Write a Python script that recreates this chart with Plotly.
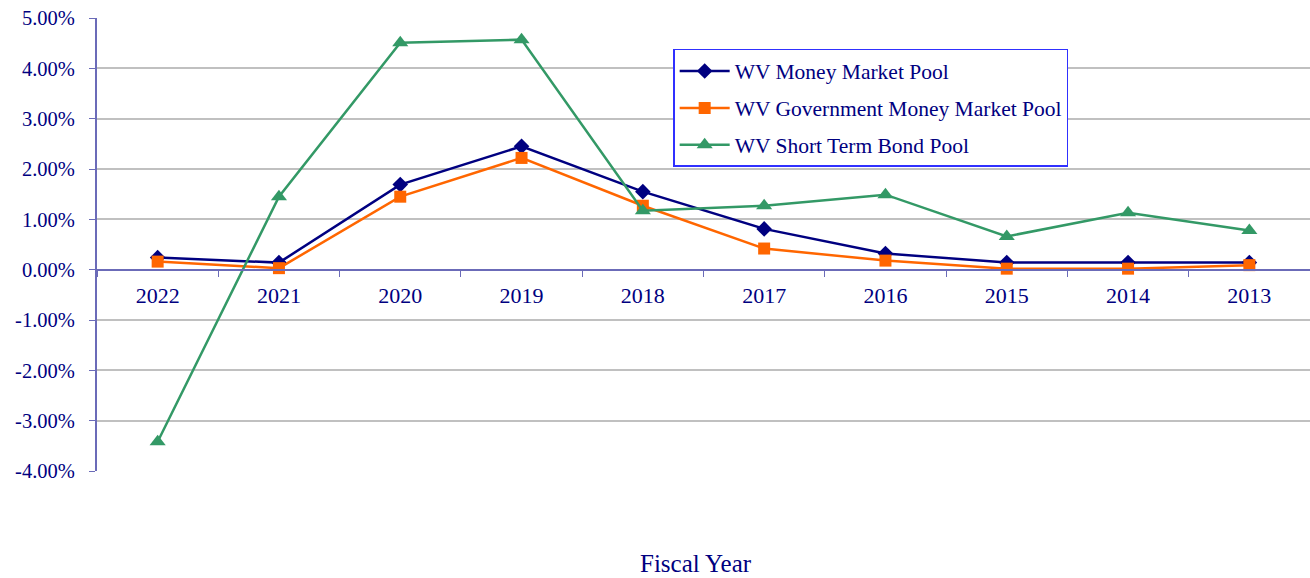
import plotly.graph_objects as go

years = ["2022", "2021", "2020", "2019", "2018", "2017", "2016", "2015", "2014", "2013"]
money_market = [0.24, 0.14, 1.69, 2.45, 1.55, 0.81, 0.32, 0.14, 0.14, 0.14]
gov_money_market = [0.16, 0.03, 1.45, 2.22, 1.27, 0.42, 0.18, 0.02, 0.02, 0.09]
short_term_bond = [-3.42, 1.45, 4.51, 4.57, 1.17, 1.27, 1.49, 0.66, 1.13, 0.78]
y_ticks = [5, 4, 3, 2, 1, 0, -1, -2, -3, -4]
y_tick_labels = [f"{v:.2f}%" for v in y_ticks]

navy = "#000080"
axis_col = "#6B6BB8"
font_family = "Liberation Serif, Times New Roman, serif"

fig = go.Figure()
fig.add_trace(go.Scatter(x=years, y=money_market, mode="lines+markers", name="WV Money Market Pool",
                         line=dict(color=navy, width=2.5), marker=dict(symbol="diamond", size=12, color=navy),
                         legendgroup="a"))
fig.add_trace(go.Scatter(x=years, y=gov_money_market, mode="lines+markers", name="WV Government Money Market Pool",
                         line=dict(color="#FF6600", width=2.5), marker=dict(symbol="square", size=12, color="#FF6600"),
                         legendgroup="b"))
fig.add_trace(go.Scatter(x=years, y=short_term_bond, mode="lines+markers", name="WV Short Term Bond Pool",
                         line=dict(color="#339966", width=2.5), marker=dict(symbol="triangle-up", size=14, color="#339966"),
                         legendgroup="c"))

fig.update_layout(
    width=1310, height=578,
    margin=dict(l=97, r=0, t=18, b=107),
    paper_bgcolor="white", plot_bgcolor="white",
    font=dict(family=font_family, size=22, color=navy),
    showlegend=True,
    legend=dict(x=0.475, y=0.9316, xanchor="left", yanchor="top",
                bordercolor="#3030FF", borderwidth=1.5, bgcolor="white",
                font=dict(size=21.5, color=navy), tracegroupgap=6,
                itemwidth=50),
    xaxis=dict(type="category", anchor="free", position=4/9, showgrid=False,
               showline=True, linecolor=axis_col, linewidth=2,
               ticks="outside", tickson="boundaries", ticklen=6, tickcolor=axis_col,
               ticklabelstandoff=6,
               tickfont=dict(size=22, color=navy), range=[-0.5, 9.5]),
    yaxis=dict(range=[-4, 5], tickvals=y_ticks, ticktext=y_tick_labels,
               showgrid=True, gridcolor="#C0C0C0", gridwidth=1.5, zeroline=False,
               showline=True, linecolor=axis_col, linewidth=2,
               ticks="outside", ticklen=6, tickcolor=axis_col,
               ticklabelstandoff=10,
               tickfont=dict(size=20.5, color=navy)),
    annotations=[dict(text="Fiscal Year", x=0.494, y=-0.205, xref="paper", yref="paper",
                      showarrow=False, font=dict(size=25, color=navy), yanchor="middle")],
)

fig.write_html("out.html")
